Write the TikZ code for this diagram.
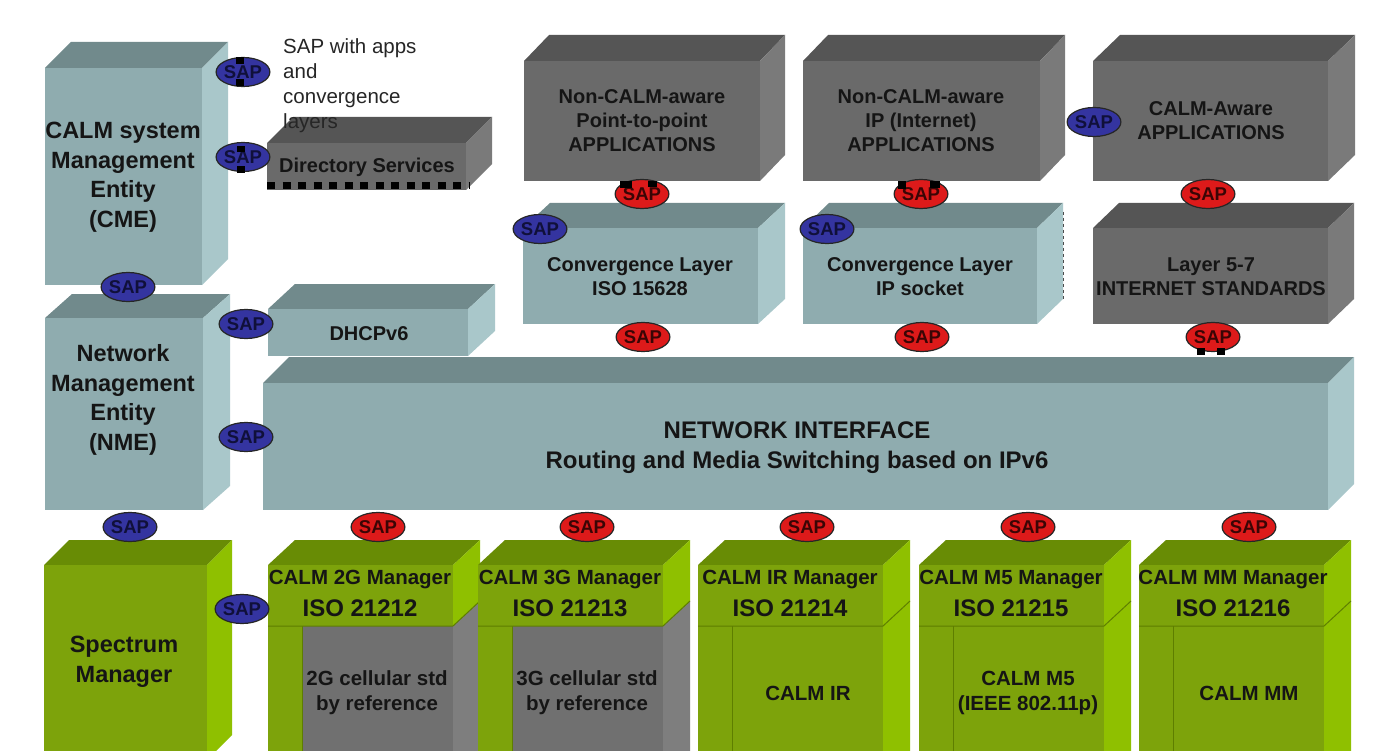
\documentclass[tikz,border=0pt]{standalone}
\usepackage{fontspec}
\setmainfont{Liberation Sans}
\usetikzlibrary{shapes.geometric}
\definecolor{tealF}{HTML}{8FACAF}
\definecolor{tealT}{HTML}{718A8C}
\definecolor{tealS}{HTML}{A9C7CA}
\definecolor{grayF}{HTML}{6A6A6A}
\definecolor{grayT}{HTML}{555555}
\definecolor{grayS}{HTML}{7A7A7A}
\definecolor{greenF}{HTML}{7DA30B}
\definecolor{greenT}{HTML}{688C05}
\definecolor{greenS}{HTML}{8FC000}
\definecolor{greenL}{HTML}{5E7E00}
\definecolor{igrayF}{HTML}{707070}
\definecolor{igrayS}{HTML}{7E7E7E}
\definecolor{sapblue}{HTML}{3434A0}
\definecolor{sapred}{HTML}{DD1A1A}
\definecolor{sapbtxt}{HTML}{10103A}
\definecolor{saprtxt}{HTML}{3A0505}
\definecolor{txt}{HTML}{151515}
% x1 y1 x2 y2 dx dy palette
\newcommand\calmbox[7]{%
  \fill[#7T] (#1,#2) -- ({#1+#5},{#2-#6}) -- ({#3+#5},{#2-#6}) -- (#3,#2) -- cycle;
  \fill[#7S] (#3,#2) -- ({#3+#5},{#2-#6}) -- ({#3+#5},{#4-#6}) -- (#3,#4) -- cycle;
  \fill[#7F] (#1,#2) rectangle (#3,#4);
}
% x1 inner-palette
\newcommand\mgrbox[2]{%
  \fill[greenT] (#1,565) -- ({#1+27},540) -- ({#1+212},540) -- ({#1+185},565) -- cycle;
  \fill[greenS] ({#1+185},565) -- ({#1+212},540) -- ({#1+212},601) -- ({#1+185},626) -- cycle;
  \fill[greenF] (#1,565) rectangle ({#1+185},626);
  \fill[greenF] (#1,626) rectangle ({#1+34},760);
  \fill[#2F] ({#1+34},626) rectangle ({#1+185},760);
  \fill[#2S] ({#1+185},626) -- ({#1+212},601) -- ({#1+212},760) -- ({#1+185},760) -- cycle;
  \draw[greenL, line width=1] (#1,626) -- ({#1+185},626) -- ({#1+212},601);
  \draw[greenL, line width=1] ({#1+34},626) -- ({#1+34},760);
}
\tikzset{
  lbl/.style={font=\bfseries\fontsize{20}{24}\selectfont, text=txt, align=center, inner sep=0},
  lblbig/.style={font=\bfseries\fontsize{23.5}{29.5}\selectfont, text=txt, align=center, inner sep=0},
  lblgr/.style={font=\bfseries\fontsize{20.5}{25}\selectfont, text=txt, align=center, inner sep=0},
  lbliso/.style={font=\bfseries\fontsize{24}{28}\selectfont, text=txt, align=center, inner sep=0},
  sap/.style={ellipse, minimum width=50, minimum height=29, inner sep=0, draw=black!85, line width=1.2,
    font=\bfseries\fontsize{18.5}{18.5}\selectfont},
  sapb/.style={sap, fill=sapblue, text=sapbtxt},
  sapr/.style={sap, fill=sapred, text=saprtxt},
  stub/.style={fill=black}
}
\begin{document}
\begin{tikzpicture}[x=1pt,y=-1pt]
\useasboundingbox (0,0) rectangle (1399,751);
\fill[white] (0,0) rectangle (1399,751);
\clip (0,0) rectangle (1399,751);

% left management column
\calmbox{45}{68}{202}{285}{26}{26}{teal}
\calmbox{45}{318}{203}{510}{27}{24}{teal}
\calmbox{44}{565}{207}{760}{25}{25}{green}

% directory services & DHCPv6
\calmbox{267}{143}{466}{190}{26}{26}{gray}
\draw[black, line width=7, dash pattern=on 8 off 7.5] (267,186) -- (470,186);
\calmbox{268}{309}{468}{356}{27}{25}{teal}

% top applications
\calmbox{524}{61}{760}{181}{25}{26}{gray}
\calmbox{803}{61}{1040}{181}{25}{26}{gray}
\calmbox{1093}{61}{1328}{181}{27}{26}{gray}

% convergence layers
\calmbox{523}{228}{758}{324}{27}{25}{teal}
\calmbox{803}{228}{1037}{324}{26}{25}{teal}
\draw[gray!60!black, dashed, line width=0.8] (1063,212) -- (1063,300);
\calmbox{1093}{228}{1328}{324}{26}{25}{gray}

% network interface
\calmbox{263}{383}{1328}{510}{26}{26}{teal}

% bottom managers
\mgrbox{268}{igray}
\mgrbox{478}{igray}
\mgrbox{698}{green}
\mgrbox{919}{green}
\mgrbox{1139}{green}

% labels
\node[lblbig] (cme) at (123,177) {CALM system\\Management\\Entity\\(CME)};
\node[lblbig] (nme) at (123,400) {Network\\Management\\Entity\\(NME)};
\node[lblbig] (spec) at (124,662) {Spectrum\\Manager};
\node[lbl] (dir) at (367,167) {Directory Services};
\node[lbl] (dhcp) at (369,334) {DHCPv6};
\node[lbl] (appA) at (642,121) {Non-CALM-aware\\Point-to-point\\APPLICATIONS};
\node[lbl] (appB) at (921,121) {Non-CALM-aware\\IP (Internet)\\APPLICATIONS};
\node[lbl] (appC) at (1211,121) {CALM-Aware\\APPLICATIONS};
\node[lbl] (convA) at (640,277) {Convergence Layer\\ISO 15628};
\node[lbl] (convB) at (920,277) {Convergence Layer\\IP socket};
\node[lbl] (l57) at (1211,277) {Layer 5-7\\INTERNET STANDARDS};
\node[font=\bfseries\fontsize{24}{30}\selectfont, text=txt, align=center, inner sep=0] (ni) at (797,448)
  {NETWORK INTERFACE\\Routing and Media Switching based on IPv6};

\node[lblgr] (m2g) at (360,580) {CALM 2G Manager};
\node[lbliso] (i2g) at (360,608) {ISO 21212};
\node[lblgr] (m3g) at (570,580) {CALM 3G Manager};
\node[lbliso] (i3g) at (570,608) {ISO 21213};
\node[lblgr] (mir) at (790,580) {CALM IR Manager};
\node[lbliso] (iir) at (790,608) {ISO 21214};
\node[lblgr] (mm5) at (1011,580) {CALM M5 Manager};
\node[lbliso] (im5) at (1011,608) {ISO 21215};
\node[lblgr] (mmm) at (1233,580) {CALM MM Manager};
\node[lbliso] (imm) at (1233,608) {ISO 21216};

\node[lblgr] (c2g) at (377,693) {2G cellular std\\by reference};
\node[lblgr] (c3g) at (587,693) {3G cellular std\\by reference};
\node[lblgr] (cir) at (808,693) {CALM IR};
\node[lblgr] (cm5) at (1028,693) {CALM M5\\(IEEE 802.11p)};
\node[lblgr] (cmm) at (1249,693) {CALM MM};

\node[anchor=north west, align=left, inner sep=0, text=black!85,
  font=\fontsize{20.5}{25}\selectfont] (note) at (283,38)
  {SAP with apps\\and\\convergence\\layers};

% SAP ovals
\node[sapb] (s1) at (243,72) {SAP};
\node[sapb] (s2) at (243,157) {SAP};
\node[sapb] (s3) at (128,287) {SAP};
\node[sapb] (s4) at (246,324) {SAP};
\node[sapb] (s5) at (246,437) {SAP};
\node[sapb] (s6) at (130,527) {SAP};
\node[sapb] (s7) at (242,609) {SAP};
\node[sapb] (s8) at (540,229) {SAP};
\node[sapb] (s9) at (827,229) {SAP};
\node[sapb] (s10) at (1094,122) {SAP};

\node[sapr] (r1) at (642,194) {SAP};
\node[sapr] (r2) at (921,194) {SAP};
\node[sapr] (r3) at (1208,194) {SAP};
\node[sapr] (r4) at (643,337) {SAP};
\node[sapr] (r5) at (922,337) {SAP};
\node[sapr] (r6) at (1213,337) {SAP};
\node[sapr] (r7) at (378,527) {SAP};
\node[sapr] (r8) at (587,527) {SAP};
\node[sapr] (r9) at (807,527) {SAP};
\node[sapr] (r10) at (1028,527) {SAP};
\node[sapr] (r11) at (1249,527) {SAP};

% small black stubs
\fill[stub] (236,57) rectangle (244,64);
\fill[stub] (236,79) rectangle (244,86);
\fill[stub] (237,146) rectangle (245,152);
\fill[stub] (237,166) rectangle (245,173);
\fill[stub] (620,181) rectangle (632,188);
\fill[stub] (648,181) rectangle (657,187);
\fill[stub] (898,181) rectangle (906,189);
\fill[stub] (930,181) rectangle (940,188);
\fill[stub] (1197,348) rectangle (1205,355);
\fill[stub] (1217,348) rectangle (1225,355);
\end{tikzpicture}
\end{document}
